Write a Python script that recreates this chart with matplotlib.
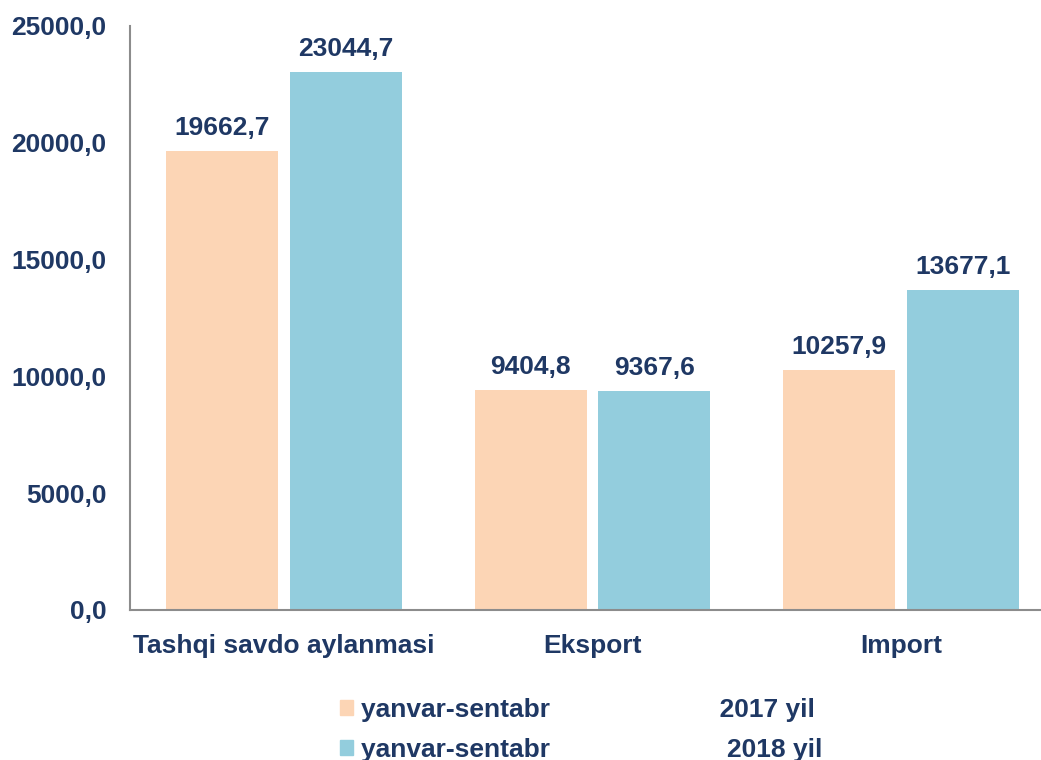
import matplotlib.pyplot as plt
import numpy as np
from matplotlib.patches import Patch

plt.rcParams['font.family'] = ['Liberation Sans', 'DejaVu Sans']
plt.rcParams['font.weight'] = 'bold'

categories = ['Tashqi savdo aylanmasi', 'Eksport', 'Import']
values_2017 = [19662.7, 9404.8, 10257.9]
values_2018 = [23044.7, 9367.6, 13677.1]
series_labels = ['yanvar-sentabr' + ' ' * 23 + '2017 yil',
                 'yanvar-sentabr' + ' ' * 24 + '2018 yil']
yticks = [0, 5000, 10000, 15000, 20000, 25000]

text_color = '#1F3864'
orange = '#FCD5B5'
blue = '#93CDDD'
fs = 19

fig = plt.figure(figsize=(10.41, 7.6), dpi=100)
ax = fig.add_axes([0.1249, 0.1974, 0.8751, 0.7684])

x = np.arange(len(categories))
width = 0.363
bars1 = ax.bar(x - 0.2, values_2017, width, color=orange)
bars2 = ax.bar(x + 0.2, values_2018, width, color=blue)

ax.set_xlim(-0.499, 2.454)
ax.set_ylim(0, 25000)
ax.set_yticks(yticks)
ax.set_yticklabels([f"{v:.1f}".replace('.', ',') for v in yticks])
ax.set_xticks(x)
ax.set_xticklabels(categories)
ax.tick_params(axis='both', length=0, labelsize=fs, labelcolor=text_color)
ax.tick_params(axis='y', pad=17)
ax.tick_params(axis='x', pad=17)

for s in ['top', 'right']:
    ax.spines[s].set_visible(False)
for s in ['left', 'bottom']:
    ax.spines[s].set_color('#8C8C8C')
    ax.spines[s].set_linewidth(1.5)

for rects in (bars1, bars2):
    for rect in rects:
        h = rect.get_height()
        ax.annotate(f"{h:.1f}".replace('.', ','),
                    xy=(rect.get_x() + rect.get_width() / 2, h),
                    xytext=(0, 8), textcoords='offset points',
                    ha='center', va='bottom', fontsize=fs,
                    fontweight='bold', color=text_color)

handles = [Patch(color=orange), Patch(color=blue)]
leg = fig.legend(handles, series_labels, loc='upper left',
                 bbox_to_anchor=(0.3135, 0.099), frameon=False,
                 fontsize=fs, handlelength=0.5, handleheight=0.5,
                 handletextpad=0.3, labelspacing=0.6, borderpad=0)
for t in leg.get_texts():
    t.set_color(text_color)

fig.savefig('out.png', dpi=100)
